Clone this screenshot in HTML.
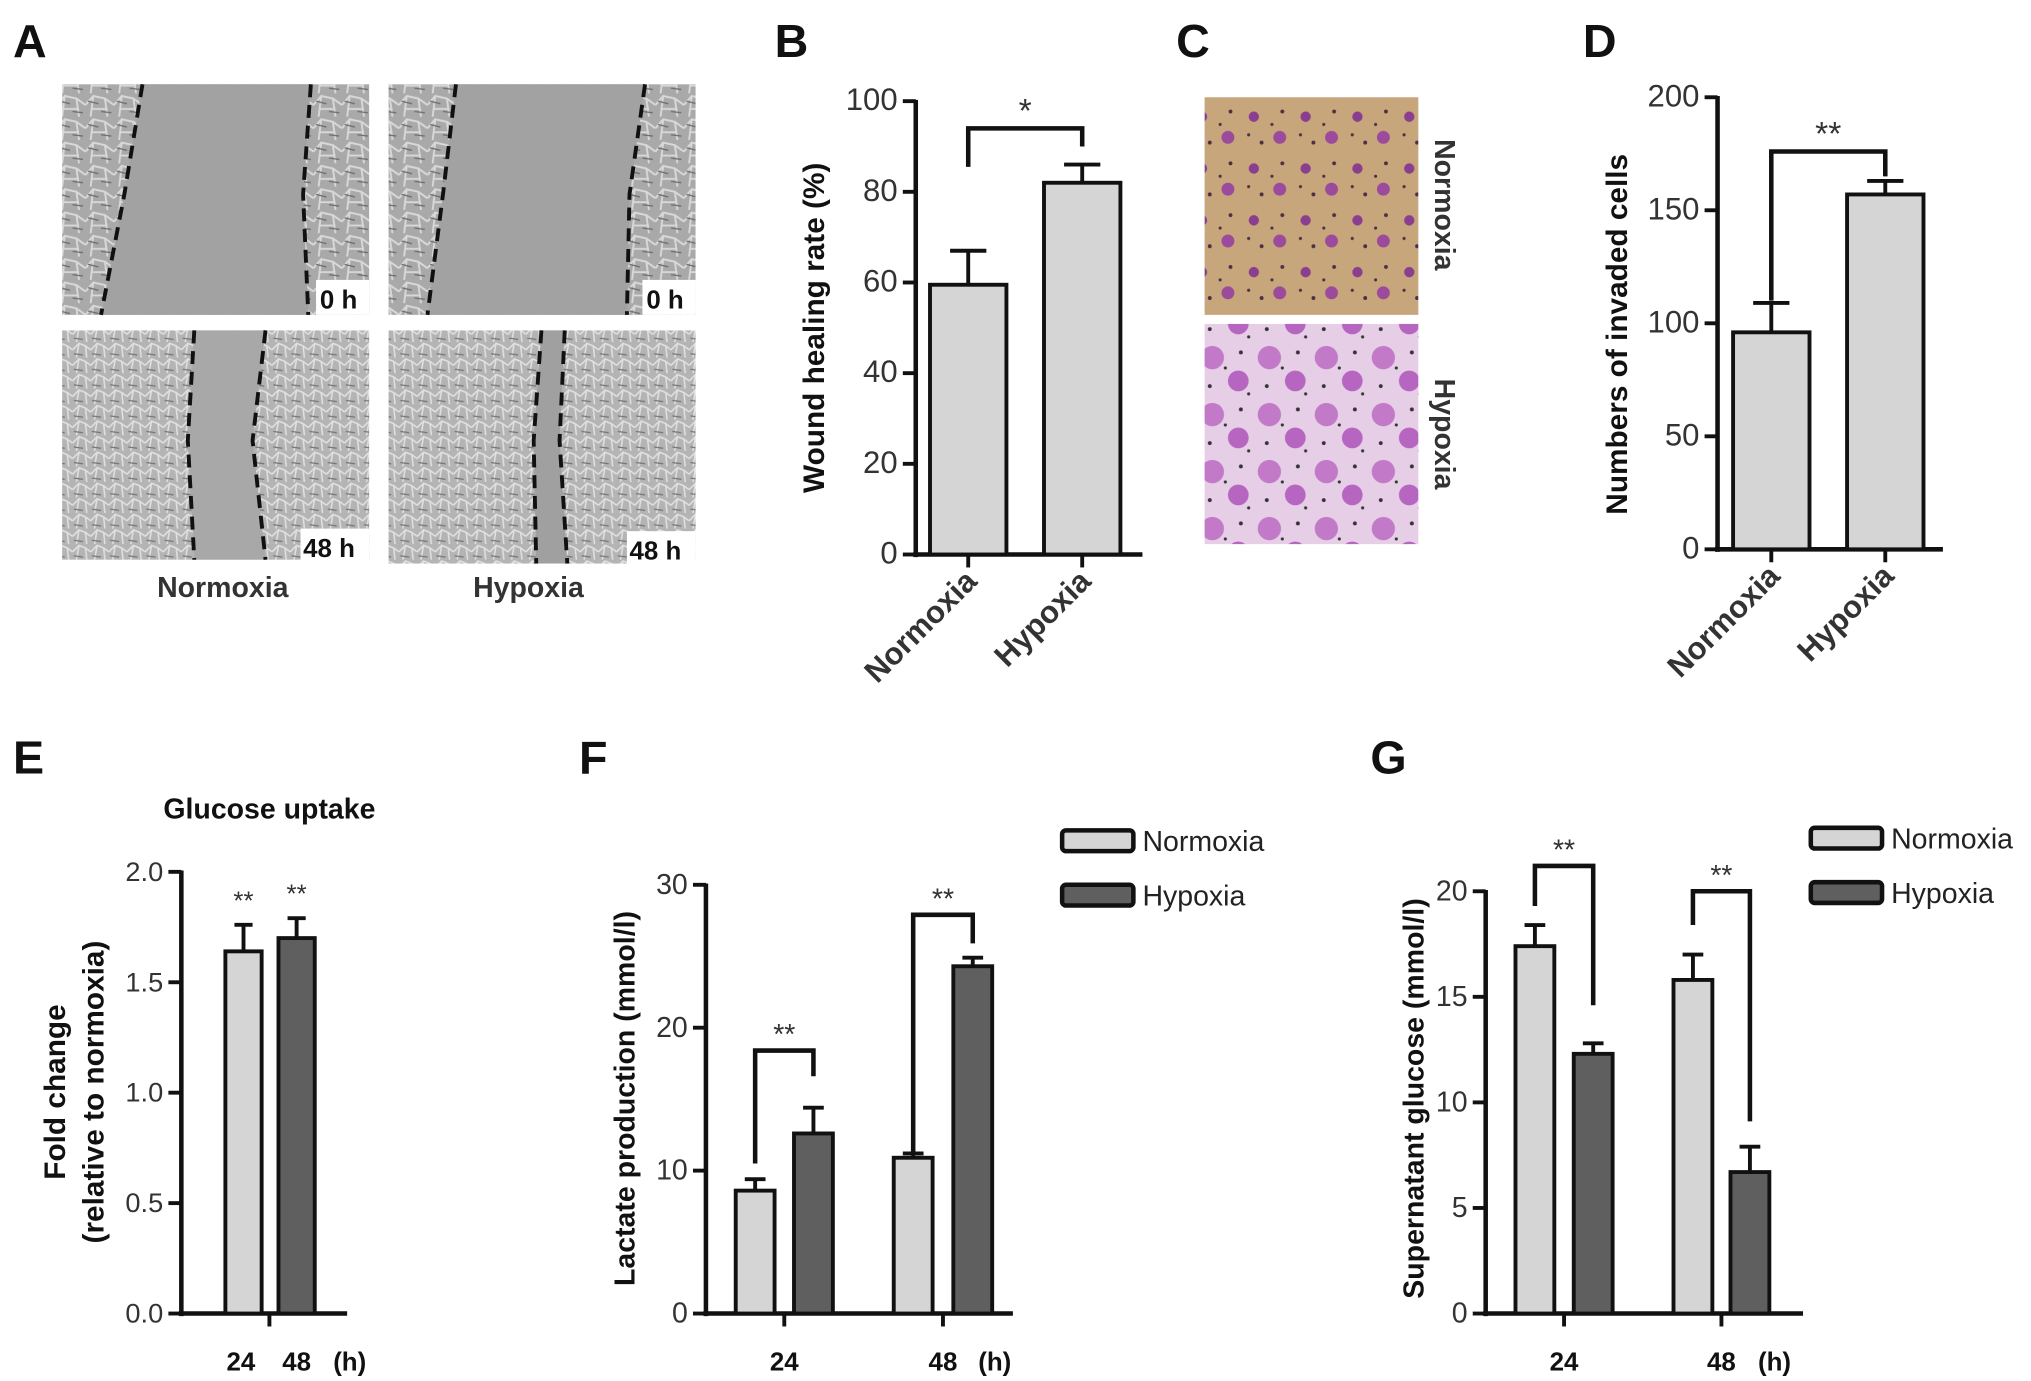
<!DOCTYPE html>
<html><head><meta charset="utf-8">
<style>
html,body{margin:0;padding:0;background:#fff;}
svg{display:block;}
text{font-family:"Liberation Sans",Arial,sans-serif;}
</style></head>
<body>
<svg id="fig" width="2031" height="1381" viewBox="0 0 1568 1066" xmlns="http://www.w3.org/2000/svg">
<defs>
<pattern id="cells" width="22" height="18" patternUnits="userSpaceOnUse">
<rect width="22" height="18" fill="#a9a9a9"/>
<path d="M0 9 L6 2 L15 4 L22 9 M6 2 L4 18 M15 4 L17 18 M4 12 L17 12" stroke="#d8d8d8" stroke-width="1.5" fill="none"/>
<path d="M2 6 L10 8 M12 14 L20 15" stroke="#6e6e6e" stroke-width="1" fill="none"/>
</pattern>
<pattern id="cellsDense" width="14" height="12" patternUnits="userSpaceOnUse">
<rect width="14" height="12" fill="#b4b4b4"/>
<path d="M0 6 L5 1 L10 3 L14 6 M5 1 L3 12 M10 3 L11 12" stroke="#e0e0e0" stroke-width="1.2" fill="none"/>
<path d="M1 9 L8 10" stroke="#777" stroke-width="1" fill="none"/>
</pattern>
<pattern id="tan" width="40" height="40" patternUnits="userSpaceOnUse">
<rect width="40" height="40" fill="#c8a67c"/>
<circle cx="8" cy="10" r="4" fill="#8a3f8e"/><circle cx="28" cy="26" r="5" fill="#9c4a9c"/>
<circle cx="30" cy="6" r="1.5" fill="#4a3040"/><circle cx="14" cy="30" r="1.5" fill="#4a3040"/>
<circle cx="22" cy="16" r="1.2" fill="#4a3040"/><circle cx="4" cy="24" r="1.2" fill="#4a3040"/>
</pattern>
<pattern id="pink" width="44" height="44" patternUnits="userSpaceOnUse">
<rect width="44" height="44" fill="#e6cfe6"/>
<circle cx="12" cy="12" r="9" fill="#c27ac8"/><circle cx="32" cy="30" r="8" fill="#b666c0"/>
<circle cx="34" cy="8" r="1.5" fill="#333"/><circle cx="10" cy="34" r="1.5" fill="#333"/>
<circle cx="22" cy="20" r="1.2" fill="#333"/><circle cx="40" cy="40" r="1.2" fill="#333"/>
</pattern>
</defs>

<g font-weight="bold" font-size="36" fill="#111">
<text x="10" y="44">A</text>
<text x="598" y="44">B</text>
<text x="908" y="44">C</text>
<text x="1222" y="44">D</text>
<text x="10" y="597">E</text>
<text x="447" y="597">F</text>
<text x="1058" y="597">G</text>
</g>

<g>
<rect x="48" y="65" width="237" height="178" fill="url(#cells)"/>
<path d="M110 65 L96 150 L78 243 L238 243 L234 150 L240 65 Z" fill="#a2a2a2"/>
<path d="M110 65 L96 150 L78 243 M240 65 L234 150 L238 243" stroke="#111" stroke-width="3" stroke-dasharray="10,6" fill="none"/>
<rect x="300" y="65" width="237" height="178" fill="url(#cells)"/>
<path d="M352 65 L342 150 L330 243 L484 243 L486 150 L498 65 Z" fill="#a2a2a2"/>
<path d="M352 65 L342 150 L330 243 M498 65 L486 150 L484 243" stroke="#111" stroke-width="3" stroke-dasharray="10,6" fill="none"/>
<rect x="48" y="255" width="237" height="177" fill="url(#cellsDense)"/>
<path d="M150 255 L145 340 L150 432 L205 432 L195 340 L205 255 Z" fill="#a8a8a8"/>
<path d="M150 255 L145 340 L150 432 M205 255 L195 340 L205 432" stroke="#111" stroke-width="3" stroke-dasharray="10,6" fill="none"/>
<rect x="300" y="255" width="237" height="180" fill="url(#cellsDense)"/>
<path d="M418 255 L412 340 L414 435 L438 435 L432 340 L436 255 Z" fill="#a0a0a0"/>
<path d="M418 255 L412 340 L414 435 M436 255 L432 340 L438 435" stroke="#111" stroke-width="3" stroke-dasharray="10,6" fill="none"/>
<g font-size="20" font-weight="bold" fill="#111">
<rect x="244" y="216" width="41" height="27" fill="#fff"/><text x="247" y="238">0 h</text>
<rect x="496" y="216" width="41" height="27" fill="#fff"/><text x="499" y="238">0 h</text>
<rect x="232" y="408" width="53" height="26" fill="#fff"/><text x="234" y="430">48 h</text>
<rect x="484" y="410" width="53" height="26" fill="#fff"/><text x="486" y="432">48 h</text>
</g>
<g font-size="22" font-weight="bold" fill="#333" text-anchor="middle">
<text x="172" y="461">Normoxia</text>
<text x="408" y="461">Hypoxia</text>
</g>
</g>

<g>
<rect x="930" y="75" width="165" height="168" fill="url(#tan)"/>
<rect x="930" y="250" width="165" height="170" fill="url(#pink)"/>
<g font-size="22" font-weight="bold" fill="#333" text-anchor="middle">
<text transform="translate(1108,158) rotate(90)">Normoxia</text>
<text transform="translate(1108,335) rotate(90)">Hypoxia</text>
</g>
</g>

<g id="charts"></g>
</svg>

<script>
const bCategories = ["Normoxia", "Hypoxia"];
const bValues = [59.5, 82];
const bErrors = [67, 86];
const bTicks = [0, 20, 40, 60, 80, 100];

const dCategories = ["Normoxia", "Hypoxia"];
const dValues = [96, 157];
const dErrors = [109, 163];
const dTicks = [0, 50, 100, 150, 200];

const eCategories = ["24", "48"];
const eValues = [1.64, 1.70];
const eErrors = [1.76, 1.79];
const eTicks = ["0.0", "0.5", "1.0", "1.5", "2.0"];

const fCategories = ["24", "48"];
const fNormoxia = [8.6, 10.9];
const fHypoxia = [12.6, 24.3];
const fNormoxiaErr = [9.4, 11.2];
const fHypoxiaErr = [14.4, 24.9];
const fTicks = [0, 10, 20, 30];
const fBracketTop = [18.4, 27.9];
const fBracketLeft = [10.5, 11.1];
const fBracketRight = [16.6, 25.9];

const gCategories = ["24", "48"];
const gNormoxia = [17.4, 15.8];
const gHypoxia = [12.3, 6.7];
const gNormoxiaErr = [18.4, 17.0];
const gHypoxiaErr = [12.8, 7.9];
const gTicks = [0, 5, 10, 15, 20];
const gBracketTop = [21.2, 20.0];
const gBracketLeft = [19.3, 18.4];
const gBracketRight = [14.6, 9.1];

const LIGHT = "#d5d5d5", DARK = "#5f5f5f";
const NS = "http://www.w3.org/2000/svg";
const root = document.getElementById("charts");

function mk(tag, attrs, parent, txt) {
  const el = document.createElementNS(NS, tag);
  for (const k in attrs) el.setAttribute(k, attrs[k]);
  if (txt !== undefined) el.textContent = txt;
  (parent || root).appendChild(el);
  return el;
}
function group(name) {
  const g = mk("g", {});
  
  
  return g;
}
function yScale(y0, y1, vmax) { return v => y0 - (v / vmax) * (y0 - y1); }

function yAxis(g, ax, y, ticks, xEnd, fs) {
  const line = mk("line", {x1: ax, y1: y(+ticks[ticks.length-1]) - 1, x2: ax, y2: y(0) + 2, stroke: "#111", "stroke-width": 3.5}, g);
  
  
  const xl = mk("line", {x1: ax - 2, y1: y(0), x2: xEnd, y2: y(0), stroke: "#111", "stroke-width": 3.5}, g);
  
  
  ticks.forEach(t => {
    mk("line", {x1: ax - 10, y1: y(+t), x2: ax, y2: y(+t), stroke: "#111", "stroke-width": 3}, g);
    const tx = mk("text", {x: ax - 14, y: y(+t) + 7, "font-size": fs, fill: "#333", "text-anchor": "end"}, g, String(t));
    
    
  });
}
function bar(g, x, w, v, y, fill, name) {
  const r = mk("rect", {x: x, y: y(v), width: w, height: y(0) - y(v), fill: fill, stroke: "#111", "stroke-width": 3}, g);
  
  
}
function err(g, cx, v, e, y, cap) {
  const p = mk("path", {d: `M${cx} ${y(v)} V${y(e)} M${cx - cap} ${y(e)} H${cx + cap}`, stroke: "#111", "stroke-width": 3, fill: "none"}, g);
  
  
}
function bracket(g, xl, xr, top, lb, rb, y, stars, fs) {
  const p = mk("path", {d: `M${xl} ${y(lb)} V${y(top)} H${xr} V${y(rb)}`, stroke: "#111", "stroke-width": 3.5, fill: "none"}, g);
  
  
  const t = mk("text", {x: (xl + xr) / 2, y: y(top) - 5, "font-size": fs, fill: "#333", "text-anchor": "middle"}, g, stars);
  
  
}
function rotLabel(g, x, y, txt, fs, name) {
  const t = mk("text", {transform: `translate(${x},${y}) rotate(-90)`, "font-size": fs, "font-weight": "bold", fill: "#111", "text-anchor": "middle"}, g, txt);
  
  
}

(function () {
  const g = group("panel-b-wound-healing-chart");
  const y = yScale(428, 78, 100);
  yAxis(g, 707, y, bTicks, 882, 24);
  const xs = [718, 806], w = 59;
  bCategories.forEach((c, i) => {
    bar(g, xs[i], w, bValues[i], y, LIGHT, "bar-" + c.toLowerCase());
    err(g, xs[i] + w / 2, bValues[i], bErrors[i], y, 14);
    mk("line", {x1: xs[i] + w / 2, y1: y(0), x2: xs[i] + w / 2, y2: y(0) + 10, stroke: "#111", "stroke-width": 3}, g);
    const t = mk("text", {transform: `translate(${xs[i] + w / 2 + 8},${y(0) + 22}) rotate(-45)`, "font-size": 24, "font-weight": "bold", fill: "#333", "text-anchor": "end"}, g, c);
    
    
  });
  bracket(g, xs[0] + w / 2, xs[1] + w / 2, 94, 85.5, 90, y, "*", 26);
  rotLabel(g, 636, 253, "Wound healing rate (%)", 23, "y-axis-title");
})();

(function () {
  const g = group("panel-d-invasion-chart");
  const y = yScale(424, 75, 200);
  yAxis(g, 1326, y, dTicks, 1500, 24);
  const xs = [1338, 1426], w = 59;
  dCategories.forEach((c, i) => {
    bar(g, xs[i], w, dValues[i], y, LIGHT, "bar-" + c.toLowerCase());
    err(g, xs[i] + w / 2, dValues[i], dErrors[i], y, 14);
    mk("line", {x1: xs[i] + w / 2, y1: y(0), x2: xs[i] + w / 2, y2: y(0) + 10, stroke: "#111", "stroke-width": 3}, g);
    const t = mk("text", {transform: `translate(${xs[i] + w / 2 + 8},${y(0) + 22}) rotate(-45)`, "font-size": 24, "font-weight": "bold", fill: "#333", "text-anchor": "end"}, g, c);
    
    
  });
  bracket(g, xs[0] + w / 2, xs[1] + w / 2, 176, 110, 165, y, "**", 26);
  rotLabel(g, 1256, 258, "Numbers of invaded cells", 23, "y-axis-title");
})();

(function () {
  const g = group("panel-e-glucose-uptake-chart");
  const y = yScale(1014, 673, 2.0);
  yAxis(g, 140, y, eTicks, 268, 21);
  const xs = [174, 215], w = 28, fills = [LIGHT, DARK];
  mk("line", {x1: 208, y1: y(0), x2: 208, y2: y(0) + 10, stroke: "#111", "stroke-width": 3}, g);
  eCategories.forEach((c, i) => {
    bar(g, xs[i], w, eValues[i], y, fills[i], "bar-" + c + "h");
    err(g, xs[i] + w / 2, eValues[i], eErrors[i], y, 7);
    const s = mk("text", {x: xs[i] + w / 2, y: y(eErrors[i]) - 12, "font-size": 20, fill: "#333", "text-anchor": "middle"}, g, "**");
    
    
    const t = mk("text", {x: [186, 229][i], y: 1058, "font-size": 20, "font-weight": "bold", fill: "#111", "text-anchor": "middle"}, g, c);
    
    
  });
  mk("text", {x: 270, y: 1058, "font-size": 20, "font-weight": "bold", fill: "#111", "text-anchor": "middle"}, g, "(h)");
  const ti = mk("text", {x: 208, y: 632, "font-size": 22, "font-weight": "bold", fill: "#111", "text-anchor": "middle"}, g, "Glucose uptake");
  
  
  rotLabel(g, 50, 843, "Fold change", 23, "y-axis-title");
  rotLabel(g, 80, 843, "(relative to normoxia)", 23, "y-axis-title-line2");
})();

function grouped(name, cfg) {
  const g = group(name);
  const y = yScale(1014, cfg.top, cfg.vmax);
  yAxis(g, cfg.ax, y, cfg.ticks, cfg.xEnd, 22);
  const w = 30;
  cfg.cats.forEach((c, i) => {
    const xn = cfg.xn[i], xh = cfg.xh[i];
    bar(g, xn, w, cfg.norm[i], y, LIGHT, "bar-normoxia-" + c + "h");
    bar(g, xh, w, cfg.hyp[i], y, DARK, "bar-hypoxia-" + c + "h");
    err(g, xn + w / 2, cfg.norm[i], cfg.normErr[i], y, 8);
    err(g, xh + w / 2, cfg.hyp[i], cfg.hypErr[i], y, 8);
    const cx = (xn + xh + w) / 2;
    mk("line", {x1: cx, y1: y(0), x2: cx, y2: y(0) + 10, stroke: "#111", "stroke-width": 3}, g);
    bracket(g, xn + w / 2, xh + w / 2, cfg.bt[i], cfg.bl[i], cfg.br[i], y, "**", 22);
    const t = mk("text", {x: cx, y: 1058, "font-size": 20, "font-weight": "bold", fill: "#111", "text-anchor": "middle"}, g, c);
    
    
  });
  mk("text", {x: cfg.hx, y: 1058, "font-size": 20, "font-weight": "bold", fill: "#111", "text-anchor": "middle"}, g, "(h)");
  rotLabel(g, cfg.lx, 848, cfg.label, 22, "y-axis-title");
  const lg = mk("g", {}, g);
  
  
  [["Normoxia", LIGHT, 0], ["Hypoxia", DARK, 42]].forEach(([n, f, dy]) => {
    const e = mk("g", {}, lg);
    
    
    mk("rect", {x: cfg.lgx, y: cfg.lgy + dy, width: 55, height: 16, rx: 3, fill: f, stroke: "#111", "stroke-width": 3.5}, e);
    mk("text", {x: cfg.lgx + 62, y: cfg.lgy + dy + 16, "font-size": 22, fill: "#222"}, e, n);
  });
}

grouped("panel-f-lactate-chart", {
  top: 683, vmax: 30, ax: 545, xEnd: 782, ticks: fTicks, cats: fCategories,
  xn: [568, 690], xh: [613, 736], norm: fNormoxia, hyp: fHypoxia,
  normErr: fNormoxiaErr, hypErr: fHypoxiaErr,
  bt: fBracketTop, bl: fBracketLeft, br: fBracketRight,
  hx: 768, lx: 490, label: "Lactate production (mmol/l)", lgx: 820, lgy: 641
});
grouped("panel-g-supernatant-glucose-chart", {
  top: 688, vmax: 20, ax: 1147, xEnd: 1392, ticks: gTicks, cats: gCategories,
  xn: [1170, 1292], xh: [1215, 1336], norm: gNormoxia, hyp: gHypoxia,
  normErr: gNormoxiaErr, hypErr: gHypoxiaErr,
  bt: gBracketTop, bl: gBracketLeft, br: gBracketRight,
  hx: 1370, lx: 1099, label: "Supernatant  glucose (mmol/l)", lgx: 1398, lgy: 639
});
</script>
</body></html>
